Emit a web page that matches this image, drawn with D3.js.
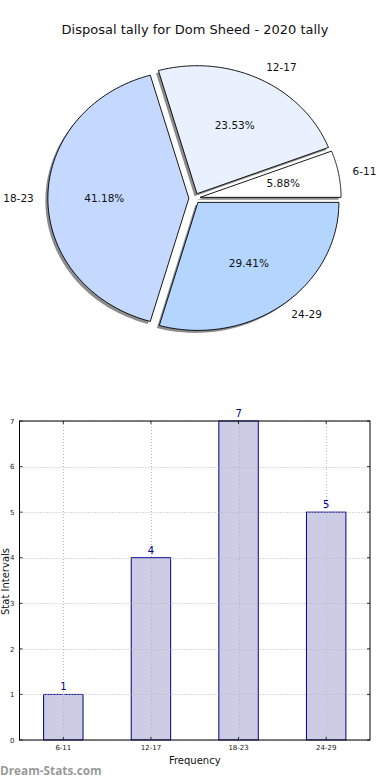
<!DOCTYPE html>
<html>
<head>
<meta charset="utf-8">
<script src="https://cdn.jsdelivr.net/npm/d3@7"></script>
<style>
html,body{margin:0;padding:0;background:#fff;}
svg{display:block;font-family:"DejaVu Sans",sans-serif;}
</style>
</head>
<body>
<svg id="chart" width="390" height="780"></svg>
<script>
const title = "Disposal tally for Dom Sheed - 2020 tally";
const categories = ["6-11", "12-17", "18-23", "24-29"];
const counts = [1, 4, 7, 5];
const pieColors = ["#ffffff", "#e9f1fe", "#c5d9fe", "#b4d5fe"];
const yTicks = [0, 1, 2, 3, 4, 5, 6, 7];
const xAxisLabel = "Frequency";
const yAxisLabel = "Stat Intervals";
const watermark = "Dream-Stats.com";

const svg = d3.select("#chart");

svg.append("text").attr("x", 195).attr("y", 34).attr("text-anchor", "middle")
  .attr("font-size", 13).attr("fill", "#111").text(title);

// ---------- Pie (matplotlib-style, elliptical, exploded, shadowed) ----------
const cx = 194.5, cy = 198.3, rx = 141, ry = 128, explode = 0.04;
const total = d3.sum(counts);
const pieGen = d3.pie().sort(null).value(d => d).startAngle(0).endAngle(2 * Math.PI);
const arcs = pieGen(counts);
function pt(theta, r) { return [r * rx * Math.cos(theta), -r * ry * Math.sin(theta)]; }
function slicePath(a) {
  const t0 = a.startAngle, t1 = a.endAngle;
  const p = d3.path();
  p.moveTo(0, 0);
  const n = 80;
  for (let i = 0; i <= n; i++) {
    const t = t0 + (t1 - t0) * i / n;
    const [px, py] = pt(t, 1);
    p.lineTo(px, py);
  }
  p.closePath();
  return p.toString();
}
const pieG = svg.append("g").attr("transform", `translate(${cx},${cy})`);
const fmt = d3.format(".2f");
arcs.forEach(a => {
  const tm = (a.startAngle + a.endAngle) / 2;
  const [ox, oy] = pt(tm, explode);
  pieG.append("path").attr("d", slicePath(a))
    .attr("transform", `translate(${ox - 2.5},${oy + 2.5})`)
    .attr("fill", "#666").attr("opacity", 0.75);
});
arcs.forEach((a, i) => {
  const tm = (a.startAngle + a.endAngle) / 2;
  const [ox, oy] = pt(tm, explode);
  const g = pieG.append("g").attr("transform", `translate(${ox},${oy})`);
  g.append("path").attr("d", slicePath(a)).attr("fill", pieColors[i])
    .attr("stroke", "#000").attr("stroke-width", 0.9).attr("stroke-linejoin", "round");
  const [lx, ly] = pt(tm, 1.1);
  g.append("text").attr("x", lx).attr("y", ly).attr("dy", "0.35em")
    .attr("text-anchor", lx > 0 ? "start" : "end").attr("font-size", 10.5).attr("fill", "#111")
    .text(categories[i]);
  const [px, py] = pt(tm, 0.6);
  g.append("text").attr("x", px).attr("y", py).attr("dy", "0.35em")
    .attr("text-anchor", "middle").attr("font-size", 10.5).attr("fill", "#111")
    .text(fmt(a.value / total * 100) + "%");
});

// ---------- Bar chart ----------
const pLeft = 19.5, pRight = 370, pTop = 421, pBottom = 740;
const xs = d3.scaleBand().domain(categories).range([pLeft, pRight]).paddingInner(0).paddingOuter(0);
const ys = d3.scaleLinear().domain([0, 7]).range([pBottom, pTop]);
const barW = xs.bandwidth() * 0.45;
const navy = "#00008b";

svg.append("g").selectAll("rect").data(counts).join("rect")
  .attr("x", (d, i) => xs(categories[i]) + xs.bandwidth() / 2 - barW / 2)
  .attr("y", d => ys(d)).attr("width", barW).attr("height", d => ys(0) - ys(d))
  .attr("fill", "#ccccE5").attr("stroke", navy).attr("stroke-width", 1);

const grid = svg.append("g").attr("stroke", "#b8b8b8").attr("stroke-width", 1).attr("stroke-dasharray", "1,2");
yTicks.forEach(t => grid.append("line").attr("x1", pLeft).attr("x2", pRight)
  .attr("y1", Math.round(ys(t)) + 0.5).attr("y2", Math.round(ys(t)) + 0.5));
categories.forEach(c => grid.append("line")
  .attr("x1", Math.round(xs(c) + xs.bandwidth() / 2) + 0.5).attr("x2", Math.round(xs(c) + xs.bandwidth() / 2) + 0.5)
  .attr("y1", pTop).attr("y2", pBottom));

svg.append("g").selectAll("text").data(counts).join("text")
  .attr("x", (d, i) => xs(categories[i]) + xs.bandwidth() / 2).attr("y", d => ys(d) - 4)
  .attr("text-anchor", "middle").attr("font-size", 10).attr("fill", navy).text(d => d);

const yAxis = d3.axisLeft(ys).tickValues(yTicks).tickFormat(d3.format("d")).tickSize(0).tickPadding(5);
const yg = svg.append("g").attr("transform", `translate(${pLeft},0)`).call(yAxis);
yg.select(".domain").remove();
yg.selectAll("text").attr("font-size", 7).attr("fill", "#222").attr("font-family", "DejaVu Sans");
const xAxis = d3.axisBottom(xs).tickSize(0).tickPadding(5);
const xg = svg.append("g").attr("transform", `translate(0,${pBottom})`).call(xAxis);
xg.select(".domain").remove();
xg.selectAll("text").attr("font-size", 7).attr("fill", "#222").attr("font-family", "DejaVu Sans");

const tk = svg.append("g").attr("stroke", "#000").attr("stroke-width", 0.8);
yTicks.forEach(t => {
  tk.append("line").attr("x1", pLeft).attr("x2", pLeft + 3).attr("y1", ys(t)).attr("y2", ys(t));
  tk.append("line").attr("x1", pRight - 3).attr("x2", pRight).attr("y1", ys(t)).attr("y2", ys(t));
});
categories.forEach(c => {
  const xc = xs(c) + xs.bandwidth() / 2;
  tk.append("line").attr("x1", xc).attr("x2", xc).attr("y1", pBottom).attr("y2", pBottom - 3);
  tk.append("line").attr("x1", xc).attr("x2", xc).attr("y1", pTop).attr("y2", pTop + 3);
});

svg.append("rect").attr("x", pLeft).attr("y", pTop).attr("width", pRight - pLeft).attr("height", pBottom - pTop)
  .attr("fill", "none").attr("stroke", "#000").attr("stroke-width", 1);

svg.append("text").attr("x", (pLeft + pRight) / 2).attr("y", 764).attr("text-anchor", "middle")
  .attr("font-size", 10).attr("fill", "#111").text(xAxisLabel);
svg.append("text").attr("transform", `translate(9,${(pTop + pBottom) / 2 + 1}) rotate(-90)`)
  .attr("text-anchor", "middle").attr("font-size", 10).attr("fill", "#111").text(yAxisLabel);

svg.append("text").attr("x", 0).attr("y", 775).attr("font-size", 11.8).attr("font-weight", "bold")
  .attr("fill", "#9a9a9a").attr("font-family", "Open Sans, DejaVu Sans, sans-serif").text(watermark);
</script>
</body>
</html>
